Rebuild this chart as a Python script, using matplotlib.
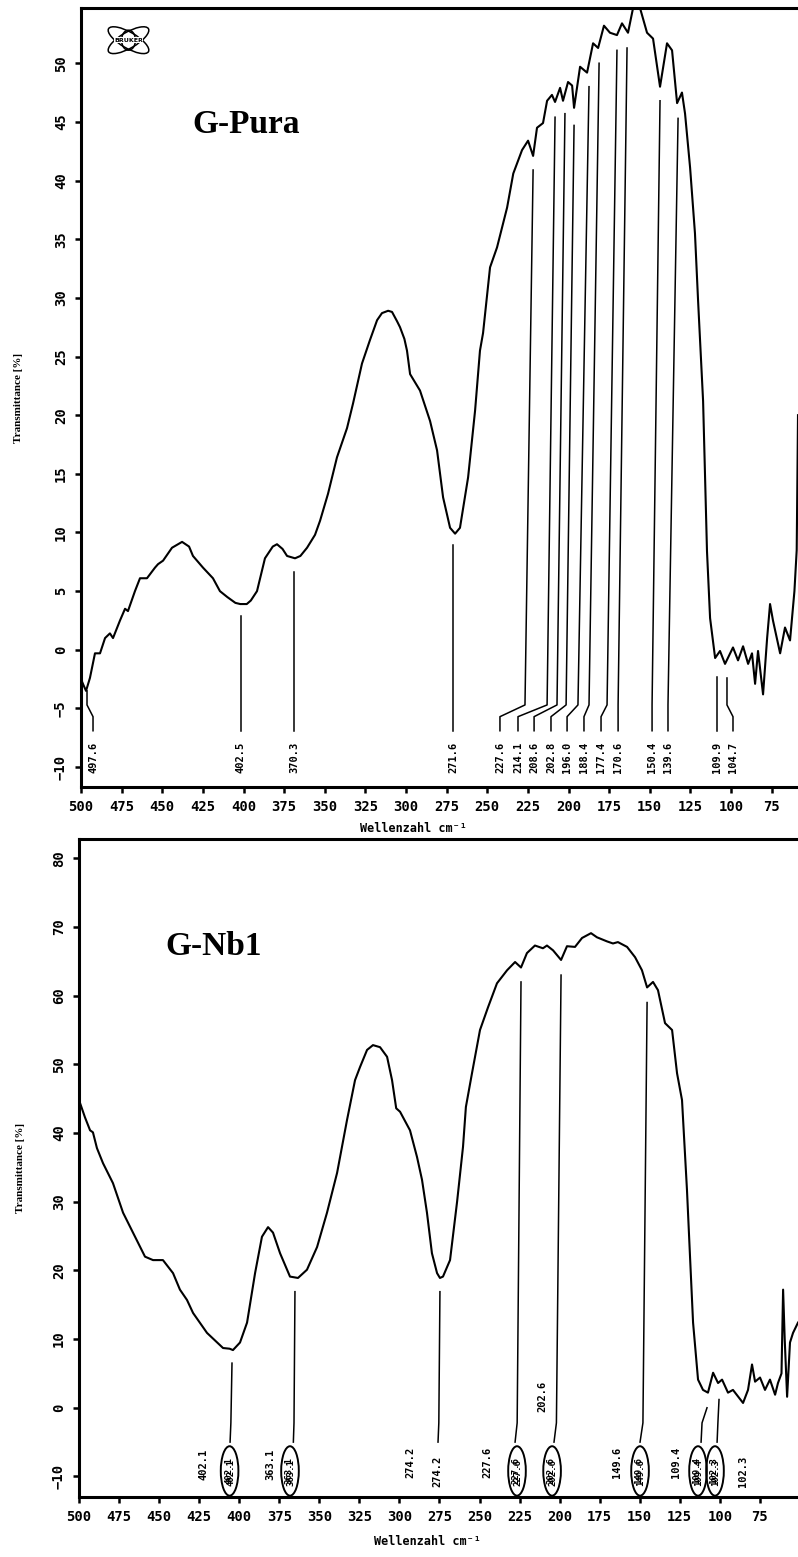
import matplotlib
matplotlib.use('Agg')
import numpy as np
import matplotlib.pyplot as plt
from matplotlib.patches import Ellipse

# ---- G-Pura spectrum (wavenumber cm-1, transmittance %) ----
pura_wn = [500.0, 498.5, 496.9, 494.5, 491.4, 488.3, 485.2, 482.2, 480.3, 476.0,
           472.9, 471.1, 466.8, 463.7, 459.4, 454.5, 452.6, 449.5, 444.0, 437.8,
           433.5, 431.1, 424.9, 418.8, 414.5, 410.0, 405.0, 402.0, 398.0, 395.5,
           391.7, 386.8, 382.0, 379.4, 376.0, 373.2, 368.3, 365.0, 360.9, 356.0,
           352.9, 348.0, 342.5, 336.3, 332.6, 327.1, 322.2, 317.8, 314.8, 311.0,
           308.6, 305.5, 303.7, 301.0, 299.4, 297.5, 291.4, 285.2, 280.9, 277.2,
           272.9, 269.8, 266.8, 261.8, 257.5, 254.5, 252.6, 248.3, 244.0, 237.8,
           234.0, 228.6, 224.9, 221.8, 219.4, 215.7, 213.2, 210.2, 208.3, 205.2,
           203.4, 200.3, 197.8, 196.6, 192.9, 188.6, 184.9, 181.8, 178.2, 174.5,
           170.2, 167.1, 163.4, 160.3, 156.0, 151.7, 148.0, 143.7, 139.4, 136.3,
           133.2, 130.2, 128.3, 125.2, 122.2, 120.3, 118.2, 117.2, 114.8, 112.9,
           109.8, 106.8, 103.7, 98.8, 95.7, 92.6, 89.5, 87.1, 85.2, 83.4,
           80.3, 77.8, 76.0, 74.2, 69.8, 66.8, 63.7, 61.0, 59.6, 58.8]
pura_T = [-2.5, -3.0, -3.5, -2.4, -0.3, -0.3, 1.0, 1.4, 1.0, 2.5,
          3.5, 3.3, 5.0, 6.1, 6.1, 7.0, 7.3, 7.6, 8.7, 9.2,
          8.8, 8.0, 7.0, 6.1, 5.0, 4.5, 4.0, 3.9, 3.9, 4.2,
          5.0, 7.8, 8.8, 9.0, 8.6, 8.0, 7.8, 8.0, 8.7, 9.8,
          11.0, 13.3, 16.4, 18.9, 21.0, 24.4, 26.4, 28.1, 28.7, 28.9,
          28.8, 28.0, 27.5, 26.5, 25.5, 23.5, 22.1, 19.5, 17.0, 13.0,
          10.4, 9.9, 10.4, 14.7, 20.4, 25.5, 27.0, 32.6, 34.3, 37.7,
          40.6, 42.6, 43.4, 42.1, 44.5, 44.9, 46.8, 47.3, 46.7, 47.9,
          46.8, 48.4, 48.1, 46.2, 49.7, 49.2, 51.7, 51.3, 53.2, 52.6,
          52.4, 53.4, 52.6, 54.7, 54.7, 52.6, 52.1, 48.0, 51.7, 51.1,
          46.6, 47.5, 45.7, 41.1, 35.5, 29.8, 24.1, 21.2, 8.4, 2.7,
          -0.7, -0.1, -1.2, 0.2, -0.9, 0.3, -1.2, -0.3, -2.9, -0.1,
          -3.8, 1.0, 3.9, 2.5, -0.3, 1.9, 0.8, 5.0, 8.5, 20.0]

# peak markers G-Pura
pura_peak_labels = ['497.6', '402.5', '370.3', '271.6', '227.6', '214.1', '208.6', '202.8',
                    '196.0', '188.4', '177.4', '170.6', '150.4', '139.6', '109.9', '104.7']
pura_line_x_top = [496.3, 401.8, 368.9, 270.8, 221.8, 208.3, 202.2, 196.6,
                   187.4, 181.2, 170.2, 164.0, 143.7, 132.6, 108.6, 102.5]
pura_line_y_top = [-3.5, 2.9, 6.6, 8.9, 40.9, 45.4, 45.7, 44.7,
                   48.0, 50.0, 51.1, 51.3, 46.8, 45.3, -2.3, -2.4]
pura_line_x_mid = [496.3, 401.8, 368.9, 270.8, 226.8, 213.2, 207.1, 201.5,
                   194.2, 187.4, 176.3, 169.5, 148.6, 138.8, 108.6, 102.5]
pura_label_x = [492.6, 401.8, 368.9, 270.8, 242.2, 231.1, 221.2, 210.8,
                200.9, 190.5, 180.0, 169.5, 148.6, 138.8, 108.6, 98.8]

# ---- G-Nb1 spectrum ----
nb1_wn = [500.0, 499.4, 496.3, 493.1, 491.3, 488.8, 485.0, 478.8, 472.5, 466.3,
          458.8, 453.8, 447.6, 441.3, 437.0, 432.6, 428.8, 420.1, 410.1, 406.0,
          403.9, 399.5, 395.1, 390.1, 385.8, 382.0, 378.9, 374.5, 368.3, 363.3,
          357.7, 351.4, 345.2, 338.9, 332.7, 327.7, 324.6, 320.2, 316.5, 312.1,
          307.7, 304.6, 302.0, 299.6, 293.4, 289.0, 285.9, 282.8, 279.7, 276.5,
          274.7, 272.8, 268.4, 264.0, 260.3, 258.5, 254.7, 249.7, 244.7, 239.1,
          232.8, 227.8, 224.1, 220.4, 215.4, 210.4, 207.9, 204.1, 199.1, 195.4,
          190.4, 186.0, 180.4, 176.7, 170.4, 166.7, 163.6, 157.9, 152.9, 148.6,
          145.4, 141.7, 138.6, 134.2, 129.8, 126.7, 123.6, 120.5, 118.6, 116.7,
          113.6, 110.5, 107.4, 104.2, 101.1, 98.6, 94.9, 91.8, 85.5, 82.4,
          79.9, 78.0, 74.9, 71.8, 68.7, 65.5, 63.7, 61.5, 60.5, 59.5,
          58.0, 56.2, 54.3, 51.2]
nb1_T = [44.8, 44.4, 42.3, 40.4, 40.1, 37.8, 35.6, 32.7, 28.4, 25.5,
         22.0, 21.5, 21.5, 19.6, 17.2, 15.7, 13.8, 10.9, 8.7, 8.6,
         8.4, 9.5, 12.4, 19.6, 24.9, 26.3, 25.5, 22.5, 19.1, 18.9,
         20.1, 23.4, 28.4, 34.2, 41.9, 47.7, 49.6, 52.1, 52.8, 52.5,
         51.1, 47.7, 43.6, 43.1, 40.4, 36.5, 33.2, 28.4, 22.5, 19.6,
         18.9, 19.1, 21.5, 30.0, 38.0, 43.8, 48.7, 55.0, 58.3, 61.8,
         63.7, 64.9, 64.1, 66.2, 67.3, 66.9, 67.3, 66.6, 65.2, 67.2,
         67.1, 68.4, 69.1, 68.5, 67.9, 67.6, 67.8, 67.1, 65.6, 63.7,
         61.2, 62.0, 60.8, 56.0, 55.0, 48.7, 44.8, 31.7, 22.0, 12.4,
         4.1, 2.6, 2.2, 5.1, 3.6, 4.1, 2.2, 2.6, 0.7, 2.6,
         6.3, 3.8, 4.4, 2.6, 4.1, 1.9, 3.6, 5.0, 17.2, 10.0,
         1.6, 9.5, 10.9, 12.4]

# peak markers G-Nb1
nb1_line_x_top = [404.5, 365.2, 274.7, 224.1, 199.1, 145.4, 108.0, 100.5]
nb1_line_y_top = [6.5, 16.9, 16.9, 62.0, 63.0, 59.0, 0.0, 1.2]
nb1_line_x_mid = [405.2, 365.8, 275.4, 226.5, 202.0, 148.0, 111.1, 101.2]
nb1_line_y_mid = [-2.2, -2.2, -2.2, -2.2, -2.2, -2.2, -2.2, -2.2]
nb1_line_x_bot = [405.7, 366.2, 275.9, 227.8, 203.5, 149.8, 111.7, 101.7]
nb1_ellipse_x = [406.0, 368.3, 226.6, 204.7, 149.8, 113.6, 103.0]
nb1_ellipse_text = ['402.1', '363.1', '227.6', '202.6', '149.6', '109.4', '102.3']
nb1_label_text = ['402.1', '363.1', '274.2', '274.2', '227.6', '202.6', '149.6', '109.4', '102.3']
nb1_label_x = [422.6, 380.8, 293.4, 276.5, 245.3, 211.0, 164.2, 127.3, 85.5]
nb1_label_y = [-8.3, -8.3, -8.0, -9.2, -8.0, 1.7, -8.0, -8.0, -9.2]

xticks = np.arange(500, 74, -25)
pura_yticks = np.arange(-10, 51, 5)
nb1_yticks = np.arange(-10, 81, 10)

mono = 'DejaVu Sans Mono'
serif = 'Liberation Serif'


def style_axes(ax, yticks):
    for side in ['left', 'top', 'bottom']:
        ax.spines[side].set_linewidth(2.2)
    ax.spines['right'].set_visible(False)
    ax.set_xticks(xticks)
    ax.set_yticks(yticks)
    ax.tick_params(axis='both', direction='out', length=4.5, width=1.8, pad=5)
    for lab in ax.get_xticklabels():
        lab.set_fontfamily(mono)
        lab.set_fontweight('bold')
        lab.set_fontsize(10)
    for lab in ax.get_yticklabels():
        lab.set_fontfamily(mono)
        lab.set_fontweight('bold')
        lab.set_fontsize(10)
        lab.set_rotation(90)
        lab.set_va('center')
    ax.set_ylabel('Transmittance [%]', fontfamily=serif, fontweight='bold', fontsize=8)
    ax.set_xlabel('Wellenzahl cm\u207b\u00b9', fontfamily=mono, fontweight='bold', fontsize=8.5)
    ax.xaxis.label.set_va('center')
    ax.yaxis.label.set_va('center')


fig = plt.figure(figsize=(7.98, 15.57), dpi=100)

# ---------------- top panel ----------------
ax1 = fig.add_axes([0.1015, 0.4945, 0.8985, 0.5003])
ax1.plot(pura_wn, pura_T, color='black', lw=1.5)
ax1.set_xlim(500, 58.8)
ax1.set_ylim(-11.7, 54.7)
style_axes(ax1, pura_yticks)
ax1.xaxis.set_label_coords(0.463, -0.053)
ax1.yaxis.set_label_coords(-0.087, 0.5)

y_end = -6.9
for lab, xt, yt, xm, xl in zip(pura_peak_labels, pura_line_x_top, pura_line_y_top,
                               pura_line_x_mid, pura_label_x):
    ax1.plot([xt, xm, xl, xl], [yt, -4.7, -5.7, y_end], color='black', lw=1.1)
    ax1.text(xl, -9.2, lab, rotation=90, ha='center', va='center',
             fontfamily=mono, fontweight='bold', fontsize=7.5)

ax1.text(398.5, 44.8, 'G-Pura', fontfamily=serif, fontweight='bold', fontsize=24,
         ha='center', va='center')

# Bruker logo
logo = ax1.inset_axes([0.0223, 0.937, 0.0879, 0.0436])
logo.set_xlim(0, 63)
logo.set_ylim(0, 34)
logo.axis('off')
for ang in [30, -30]:
    logo.add_patch(Ellipse((31.5, 17), 46, 16, angle=ang, fill=False, lw=1.1, color='black'))
logo.add_patch(Ellipse((31.5, 17), 14, 20, fill=False, lw=1.1, color='black'))
logo.text(31.5, 17, 'BRUKER', ha='center', va='center', fontsize=4.5,
          fontweight='bold', fontfamily='DejaVu Sans',
          bbox=dict(facecolor='white', edgecolor='none', pad=0.3))

# ---------------- bottom panel ----------------
ax2 = fig.add_axes([0.099, 0.0385, 0.901, 0.4226])
ax2.plot(nb1_wn, nb1_T, color='black', lw=1.5)
ax2.set_xlim(500, 51.2)
ax2.set_ylim(-13.0, 82.8)
style_axes(ax2, nb1_yticks)
ax2.xaxis.set_label_coords(0.485, -0.068)
ax2.yaxis.set_label_coords(-0.082, 0.5)

for xt, yt, xm, ym, xb in zip(nb1_line_x_top, nb1_line_y_top, nb1_line_x_mid,
                              nb1_line_y_mid, nb1_line_x_bot):
    ax2.plot([xt, xm, xb], [yt, ym, -5.0], color='black', lw=1.1)

for ex, et in zip(nb1_ellipse_x, nb1_ellipse_text):
    ax2.add_patch(Ellipse((ex, -9.2), 11.0, 7.2, fill=False, lw=1.4, color='black'))
    ax2.text(ex + 0.6, -9.2, et, rotation=90, ha='center', va='center',
             fontfamily=mono, fontweight='bold', fontsize=6.5)
    ax2.text(ex - 0.6, -9.4, et, rotation=90, ha='center', va='center',
             fontfamily=mono, fontweight='bold', fontsize=6.5)

for lab, lx, ly in zip(nb1_label_text, nb1_label_x, nb1_label_y):
    ax2.text(lx, ly, lab, rotation=90, ha='center', va='center',
             fontfamily=mono, fontweight='bold', fontsize=7.5)

ax2.text(415.7, 67.1, 'G-Nb1', fontfamily=serif, fontweight='bold', fontsize=24,
         ha='center', va='center')

fig.savefig('out.png', dpi=100)
